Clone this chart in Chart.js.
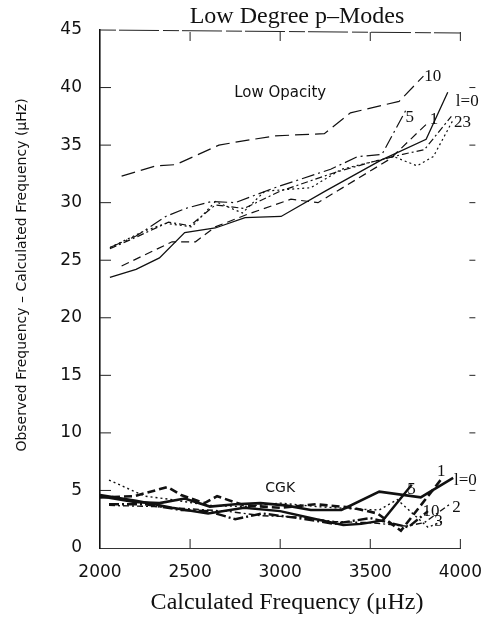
<!DOCTYPE html>
<html>
<head>
<meta charset="utf-8">
<script src="https://cdn.jsdelivr.net/npm/chart.js@4.4.1/dist/chart.umd.min.js"></script>
<style>
  body { margin: 0; background: #fff; }
  #wrap { width: 488px; height: 621px; }
</style>
</head>
<body>
<div id="wrap"><canvas id="modes-chart" width="488" height="621"></canvas></div>
<script>
// Low opacity models
var lowFreq0 = [2055, 2200, 2330, 2470, 2640, 2805, 3005, 3250, 3560, 3810, 3930];
var lowVal0 = [23.5, 24.2, 25.2, 27.4, 27.8, 28.7, 28.8, 31.0, 33.7, 35.5, 39.6];
var lowFreq1 = [2120, 2400, 2530, 2640, 2820, 3060, 3210, 3610, 3810];
var lowVal1 = [24.5, 26.6, 26.6, 27.9, 29.0, 30.3, 30.0, 33.8, 36.8];
var lowFreq2 = [2055, 2240, 2365, 2510, 2640, 2790, 2915, 3170, 3340, 3630, 3760, 3850, 3960];
var lowVal2 = [26.1, 27.5, 28.2, 27.9, 30.1, 29.1, 31.0, 31.3, 32.9, 34.0, 33.2, 34.0, 37.2];
var lowFreq3 = [2055, 2200, 2380, 2500, 2640, 2800, 3000, 3300, 3500, 3680, 3800, 3950];
var lowVal3 = [26.0, 27.0, 28.3, 28.0, 29.8, 29.5, 31.0, 32.6, 33.5, 34.2, 34.6, 37.5];
var lowFreq5 = [2055, 2200, 2365, 2475, 2620, 2750, 2970, 3280, 3430, 3565, 3700];
var lowVal5 = [26.1, 27.1, 28.8, 29.5, 30.1, 30.0, 31.3, 32.9, 34.0, 34.2, 38.1];
var lowFreq10 = [2120, 2310, 2420, 2660, 2770, 2970, 3245, 3390, 3660, 3795];
var lowVal10 = [32.3, 33.2, 33.3, 35.0, 35.3, 35.8, 36.0, 37.8, 38.8, 41.0];

// CGK models
var cgkFreq0 = [2000, 2190, 2330, 2470, 2610, 2750, 2890, 3030, 3170, 3340, 3550, 3780, 3960];
var cgkVal0 = [4.5, 4.0, 3.9, 4.3, 3.6, 3.8, 3.9, 3.7, 3.3, 3.3, 4.9, 4.4, 6.1];
var cgkFreq1 = [2000, 2190, 2375, 2450, 2580, 2650, 2800, 3000, 3200, 3400, 3540, 3670, 3900];
var cgkVal1 = [4.4, 4.5, 5.3, 4.6, 3.9, 4.5, 3.7, 3.5, 3.8, 3.5, 3.0, 1.5, 6.1];
var cgkFreq2 = [2050, 2300, 2500, 2700, 2900, 3100, 3300, 3500, 3700, 3800, 3950];
var cgkVal2 = [3.7, 3.6, 3.4, 3.2, 2.8, 2.7, 2.3, 2.2, 1.9, 2.2, 3.9];
var cgkFreq3 = [2050, 2250, 2400, 2600, 2800, 3000, 3200, 3400, 3550, 3650, 3820, 3900];
var cgkVal3 = [5.9, 4.5, 4.2, 3.7, 3.6, 3.9, 3.6, 3.4, 3.3, 4.2, 1.8, 2.3];
var cgkFreq5 = [2000, 2200, 2400, 2600, 2800, 3000, 3200, 3350, 3450, 3570, 3730];
var cgkVal5 = [4.6, 4.1, 3.5, 3.0, 3.5, 3.2, 2.5, 2.0, 2.1, 2.4, 5.5];
var cgkFreq10 = [2050, 2250, 2450, 2600, 2750, 2900, 3100, 3300, 3500, 3710, 3820];
var cgkVal10 = [3.8, 3.8, 3.3, 3.2, 2.5, 3.0, 2.6, 2.1, 2.6, 1.8, 3.2];

// curve labels (data coordinates)
var modeText = ["10", "5", "1", "l=0", "23", "1", "l=0", "5", "10", "2", "3"];
var modeX = [3800, 3695, 3830, 3975, 3965, 3870, 3965, 3705, 3790, 3955, 3855];
var modeY = [41.0, 37.4, 37.2, 38.8, 37.0, 6.6, 5.9, 5.1, 3.2, 3.5, 2.3];

var xTicks = [2000, 2500, 3000, 3500, 4000];
var yTicks = [0, 5, 10, 15, 20, 25, 30, 35, 40, 45];

function pts(xs, ys) {
    return xs.map(function (x, i) { return {x: x, y: ys[i]}; });
}

function series(xs, ys, dash, width) {
    return {
        data: pts(xs, ys),
        borderColor: "#111",
        borderWidth: width,
        borderDash: dash,
        pointRadius: 0,
        fill: false,
        tension: 0
    };
}

var frame = {
    id: "frame",
    afterDraw: function (chart) {
        var ctx = chart.ctx, a = chart.chartArea;
        var xs = chart.scales.x, ys = chart.scales.y;
        ctx.save();
        ctx.strokeStyle = "#222";
        ctx.lineWidth = 1;
        // dashed top edge
        ctx.setLineDash([16, 3, 40, 4]);
        ctx.beginPath();
        ctx.moveTo(a.left, a.top);
        ctx.lineTo(a.right, a.top + 3);
        ctx.stroke();
        ctx.setLineDash([]);
        // inward ticks
        ctx.beginPath();
        yTicks.forEach(function (v) {
            var y = ys.getPixelForValue(v);
            if (v > 0 && v < 45) {
                ctx.moveTo(a.left, y);
                ctx.lineTo(a.left + 11, y);
                ctx.moveTo(a.right + 9, y);
                ctx.lineTo(a.right + 15, y);
            }
        });
        xTicks.forEach(function (v) {
            var x = xs.getPixelForValue(v);
            if (v > 2000) {
                ctx.moveTo(x, a.bottom);
                ctx.lineTo(x, a.bottom - 9);
                ctx.moveTo(x, a.top + 2);
                ctx.lineTo(x, a.top + 11);
            }
        });
        ctx.stroke();
        // texts
        ctx.fillStyle = "#111";
        ctx.textAlign = "center";
        ctx.textBaseline = "middle";
        ctx.font = "24px 'Liberation Serif'";
        ctx.fillText("Low Degree p\u2013Modes", 297, 17);
        ctx.font = "15px 'DejaVu Sans'";
        ctx.fillText("Low Opacity", xs.getPixelForValue(3000), ys.getPixelForValue(39.5));
        ctx.font = "14px 'DejaVu Sans'";
        ctx.fillText("CGK", xs.getPixelForValue(3000), ys.getPixelForValue(5.2));
        ctx.font = "17px 'Liberation Serif'";
        ctx.textAlign = "left";
        modeText.forEach(function (t, i) {
            ctx.fillText(t, xs.getPixelForValue(modeX[i]), ys.getPixelForValue(modeY[i]));
        });
        ctx.textAlign = "center";
        ctx.font = "24px 'Liberation Serif'";
        ctx.fillText("Calculated Frequency (\u03bcHz)", 287, 603);
        ctx.translate(22, 275);
        ctx.rotate(-Math.PI / 2);
        ctx.font = "14px 'DejaVu Sans'";
        ctx.fillText("Observed Frequency \u2013 Calculated Frequency (\u03bcHz)", 0, 0);
        ctx.restore();
    }
};

new Chart(document.getElementById("modes-chart"), {
    type: 'line',
    data: {
        datasets: [
            series(lowFreq0, lowVal0, [], 1.3),
            series(lowFreq1, lowVal1, [8, 5], 1.2),
            series(lowFreq2, lowVal2, [2, 3], 1.2),
            series(lowFreq3, lowVal3, [7, 3, 2, 3], 1.2),
            series(lowFreq5, lowVal5, [13, 4, 2, 4], 1.2),
            series(lowFreq10, lowVal10, [14, 6], 1.2),
            series(cgkFreq0, cgkVal0, [], 2.6),
            series(cgkFreq1, cgkVal1, [8, 4], 2.6),
            series(cgkFreq2, cgkVal2, [6, 3, 2, 3], 1.4),
            series(cgkFreq3, cgkVal3, [2, 3], 1.4),
            series(cgkFreq5, cgkVal5, [], 2.4),
            series(cgkFreq10, cgkVal10, [10, 3, 2, 3], 2.4)
        ]
    },
    options: {
        responsive: false,
        animation: false,
        layout: {
            padding: {top: 30, right: 25, left: 0, bottom: 0}
        },
        plugins: {
            legend: {display: false},
            tooltip: {enabled: false}
        },
        scales: {
            x: {
                type: 'linear',
                min: 2000,
                max: 4000,
                afterFit: function (s) { s.height = 73; },
                afterBuildTicks: function (s) { s.ticks = xTicks.map(function (v) { return {value: v}; }); },
                grid: {display: false},
                border: {display: true, color: "#333", width: 1},
                ticks: {
                    padding: 6,
                    color: "#111",
                    font: {family: "DejaVu Sans", size: 17},
                    callback: function (v) { return String(v); }
                }
            },
            y: {
                type: 'linear',
                min: 0,
                max: 45,
                afterFit: function (s) { s.width = 100; },
                afterBuildTicks: function (s) { s.ticks = yTicks.map(function (v) { return {value: v}; }); },
                grid: {display: false},
                border: {display: true, color: "#111", width: 1.6},
                ticks: {
                    padding: 10,
                    color: "#111",
                    font: {family: "DejaVu Sans", size: 17},
                    callback: function (v) { return String(v); }
                }
            }
        }
    },
    plugins: [frame]
});
</script>
</body>
</html>
